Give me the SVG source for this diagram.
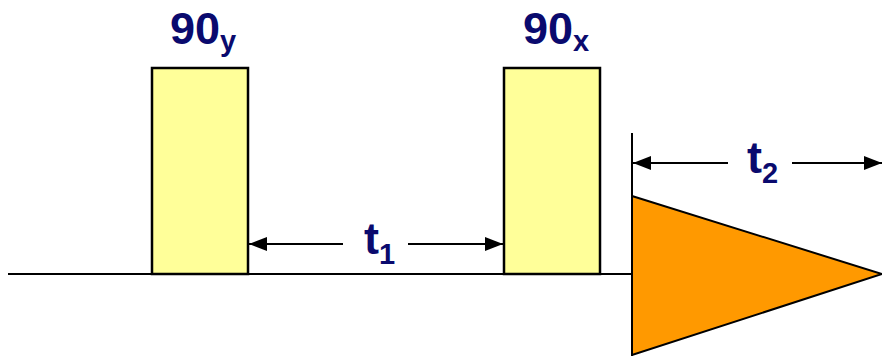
<svg xmlns="http://www.w3.org/2000/svg" width="882" height="356" viewBox="0 0 882 356">
<style>
.ln{stroke:#000;stroke-width:2;fill:none}
.pulse{fill:#FFFF99;stroke:#000;stroke-width:2.5}
.lbl{font-family:"Liberation Sans",Arial,sans-serif;font-weight:bold;fill:#0A0A6E}
.big{font-size:45px}
.sub{font-size:29px}
</style>
<defs>
<marker id="ah" viewBox="0 0 18 14" refX="18" refY="7" markerWidth="18" markerHeight="14" markerUnits="userSpaceOnUse" orient="auto-start-reverse">
<path d="M0,0 L18,7 L0,14 Z" fill="#000"/>
</marker>
</defs>
<rect width="882" height="356" fill="#fff"/>
<g id="connectors">
<line class="ln" x1="8" y1="274" x2="632" y2="274"/>
<line class="ln" x1="632" y1="133" x2="632" y2="356"/>
<line class="ln" x1="249" y1="244" x2="343" y2="244" marker-start="url(#ah)"/>
<line class="ln" x1="408" y1="244" x2="503" y2="244" marker-end="url(#ah)"/>
<line class="ln" x1="633" y1="163" x2="728" y2="163" marker-start="url(#ah)"/>
<line class="ln" x1="792" y1="163" x2="882" y2="163" marker-end="url(#ah)"/>
</g>
<g id="pulse-90y">
<rect class="pulse" x="152" y="68" width="96" height="206"/>
<text class="lbl big" x="170" y="44">90<tspan class="sub" dy="7">y</tspan></text>
</g>
<g id="pulse-90x">
<rect class="pulse" x="504" y="68" width="96" height="206"/>
<text class="lbl big" x="523" y="44">90<tspan class="sub" dy="7">x</tspan></text>
</g>
<g id="fid">
<polygon points="632,196 882,274 632,355" fill="#FF9900" stroke="#000" stroke-width="2"/>
</g>
<g id="label-t1">
<text class="lbl big" x="364" y="254">t<tspan class="sub" dy="10">1</tspan></text>
</g>
<g id="label-t2">
<text class="lbl big" x="747" y="173">t<tspan class="sub" dy="10">2</tspan></text>
</g>
</svg>
